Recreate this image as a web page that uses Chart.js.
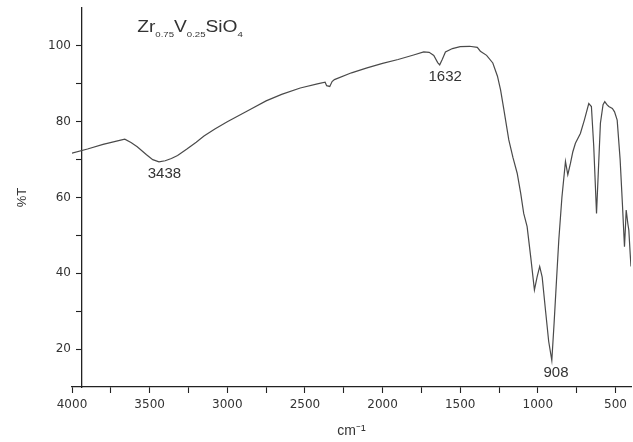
<!DOCTYPE html>
<html>
<head>
<meta charset="utf-8">
<script src="https://cdn.jsdelivr.net/npm/chart.js@4.4.0/dist/chart.umd.min.js"></script>
<style>
  html, body { margin: 0; padding: 0; background: #ffffff; }
  #wrap { width: 633px; height: 442px; }
</style>
</head>
<body>
<div id="wrap"><canvas id="c" width="633" height="442"></canvas></div>
<script>
// ---- data ----
const wavenumbers = [
  4000, 3900, 3800, 3700, 3660, 3620, 3580, 3520, 3480, 3440, 3400, 3360, 3320, 3260, 3200, 3150,
  3080, 3000, 2940, 2850, 2750, 2650, 2530, 2420, 2370, 2360, 2340, 2325, 2310, 2200, 2100, 2000,
  1900, 1800, 1735, 1700, 1670, 1645, 1632, 1615, 1595, 1550, 1500, 1440, 1390, 1370, 1330, 1290,
  1260, 1240, 1220, 1187, 1160, 1133, 1110, 1091, 1069, 1045, 1022, 1005, 988, 972, 950, 930,
  910, 895, 880, 865, 845, 822, 807, 790, 775, 758, 726, 700, 672, 655, 640, 622,
  610, 597, 580, 569, 555, 543, 520, 506, 489, 470, 455, 442, 436, 431, 420, 414, 405, 400
];
const transmittance = [
  71.7, 72.8, 74.0, 75.0, 75.4, 74.5, 73.4, 71.3, 70.0, 69.4, 69.7, 70.3, 71.1, 72.8, 74.6, 76.2,
  78.1, 80.0, 81.3, 83.3, 85.5, 87.2, 88.9, 90.0, 90.4, 89.5, 89.3, 90.6, 91.1, 92.9, 94.2, 95.4,
  96.4, 97.6, 98.4, 98.3, 97.5, 95.6, 95.0, 96.5, 98.4, 99.3, 99.8, 99.9, 99.6, 98.6, 97.5, 95.5,
  92.0, 88.4, 83.5, 75.2, 70.5, 66.4, 61.0, 55.8, 52.3, 44.0, 35.6, 39.0, 41.8, 39.0, 30.0, 22.0,
  17.0, 27.0, 38.0, 48.8, 60.0, 69.5, 66.0, 69.0, 72.0, 74.3, 76.9, 80.5, 84.8, 84.0, 73.5, 55.8,
  67.2, 79.6, 84.5, 85.3, 84.5, 84.0, 83.5, 82.6, 80.4, 70.0, 58.0, 47.0, 52.0, 56.7, 53.0, 51.4, 45.0, 41.8
];
const xMajorTicks = [4000, 3500, 3000, 2500, 2000, 1500, 1000, 500];
const xMinorTicks = [3750, 3250, 2750, 2250, 1750, 1250, 750];
const yMajorTicks = [20, 40, 60, 80, 100];
const yMinorTicks = [30, 50, 70, 90];
const xAxisTitle = 'cm\u207B\u00B9';
const yAxisTitle = '%T';
const formulaParts = ['Zr', '0.75', 'V', '0.25', 'SiO', '4'];
const formulaIsSub = [false, true, false, true, false, true];
const peakLabels = ['3438', '1632', '908'];
const peakLabelX = [3405, 1597, 883];
const peakLabelY = [66.2, 91.7, 13.7];
const formulaAnchorX = 3580;
const formulaAnchorY = 103.7;

// ---- y axis drawn slightly inside the plot (as in the reference) ----
const Y_AXIS_SHIFT = 10;
class ShiftedLinearScale extends Chart.LinearScale {
  draw(chartArea) {
    const ctx = this.ctx;
    ctx.save();
    ctx.translate(Y_AXIS_SHIFT, 0);
    super.draw(chartArea);
    ctx.restore();
  }
}
ShiftedLinearScale.id = 'shiftedLinear';
ShiftedLinearScale.defaults = Chart.LinearScale.defaults;
Chart.register(ShiftedLinearScale);

const annotationPlugin = {
  id: 'irAnnotations',
  afterDatasetsDraw(chart) {
    const ctx = chart.ctx;
    const xs = chart.scales.x, ys = chart.scales.y;
    ctx.save();
    ctx.fillStyle = '#333333';
    ctx.textAlign = 'center';
    ctx.textBaseline = 'middle';
    ctx.font = '15px "Liberation Sans", Arial, sans-serif';
    for (let i = 0; i < peakLabels.length; i++) {
      ctx.fillText(peakLabels[i], xs.getPixelForValue(peakLabelX[i]), ys.getPixelForValue(peakLabelY[i]));
    }
    // chemical formula with subscripts
    const x0 = xs.getPixelForValue(formulaAnchorX);
    const y0 = ys.getPixelForValue(formulaAnchorY);
    ctx.translate(x0, y0);
    ctx.scale(1.2, 1);
    ctx.textAlign = 'left';
    ctx.textBaseline = 'alphabetic';
    let cx = 0;
    for (let i = 0; i < formulaParts.length; i++) {
      const sub = formulaIsSub[i];
      ctx.font = (sub ? '8px' : '16px') + ' "Liberation Sans", Arial, sans-serif';
      ctx.fillText(formulaParts[i], cx, sub ? 5.5 : 0);
      cx += ctx.measureText(formulaParts[i]).width;
    }
    ctx.restore();
  }
};

const tickFont = { family: '"DejaVu Sans", sans-serif', size: 12 };
const textColor = '#333333';
const axisColor = '#222222';

new Chart(document.getElementById('c'), {
  type: 'line',
  data: {
    datasets: [{
      data: wavenumbers.map((w, i) => ({ x: w, y: transmittance[i] })),
      borderColor: '#4a4a4a',
      borderWidth: 1.2,
      pointRadius: 0,
      tension: 0,
      fill: false
    }]
  },
  options: {
    responsive: false,
    animation: false,
    devicePixelRatio: 1,
    layout: { padding: { top: 8, right: 2, left: 0, bottom: 0 } },
    plugins: { legend: { display: false }, tooltip: { enabled: false } },
    scales: {
      x: {
        type: 'linear',
        reverse: true,
        min: 400,
        max: 4000,
        afterBuildTicks: (s) => {
          s.ticks = [...xMajorTicks, ...xMinorTicks].sort((a, b) => b - a).map(v => ({ value: v }));
        },
        afterFit: (s) => { s.height = 55; s.paddingLeft = 0; s.paddingRight = 0; },
        ticks: {
          autoSkip: false, maxRotation: 0, minRotation: 0, padding: 5,
          color: textColor, font: tickFont,
          callback: (v) => xMajorTicks.includes(v) ? String(v) : ''
        },
        grid: { drawOnChartArea: false, drawTicks: true, tickLength: 6, tickColor: axisColor, tickWidth: 1.1 },
        border: { display: true, color: axisColor, width: 1.3 },
        title: {
          display: true, text: xAxisTitle, color: textColor,
          font: { family: '"Liberation Sans", Arial, sans-serif', size: 14 },
          padding: { top: 2, bottom: 2 }
        }
      },
      y: {
        type: 'shiftedLinear',
        position: 'left',
        min: 10,
        max: 110,
        afterBuildTicks: (s) => {
          s.ticks = [...yMajorTicks, ...yMinorTicks].sort((a, b) => a - b).map(v => ({ value: v }));
        },
        afterFit: (s) => { s.width = 72; s.paddingTop = 0; s.paddingBottom = 0; },
        ticks: {
          autoSkip: false, padding: 5, color: textColor, font: tickFont,
          callback: (v) => yMajorTicks.includes(v) ? String(v) : ''
        },
        grid: { drawOnChartArea: false, drawTicks: true, tickLength: 6, tickColor: axisColor, tickWidth: 1.1 },
        border: { display: true, color: axisColor, width: 1.3 },
        title: {
          display: true, text: yAxisTitle, color: textColor,
          font: { family: '"Liberation Sans", Arial, sans-serif', size: 13 },
          padding: { top: 5, bottom: 0 }
        }
      }
    }
  },
  plugins: [annotationPlugin]
});
</script>
</body>
</html>
